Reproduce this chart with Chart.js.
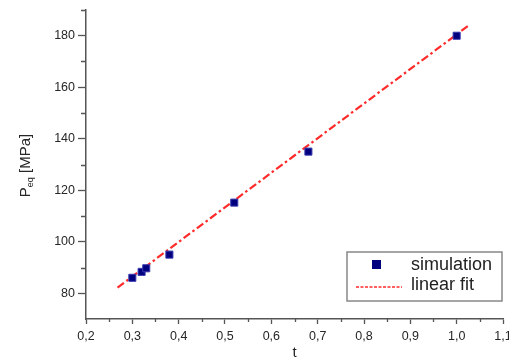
<!DOCTYPE html>
<html>
<head>
<meta charset="utf-8">
<script src="https://cdn.jsdelivr.net/npm/chart.js@4/dist/chart.umd.min.js"></script>
<style>
  html, body { margin: 0; padding: 0; background: #fff; overflow: hidden; }
  #wrap { position: relative; width: 509px; height: 362px; }
</style>
</head>
<body>
<div id="wrap"><canvas id="fitChart"></canvas></div>
<script>
// simulated equivalent pressure vs t
const simT = [0.30, 0.32, 0.33, 0.38, 0.52, 0.68, 1.00];
const simP = [86, 88.3, 89.7, 95, 115.2, 135, 180];

// linear fit, drawn between its two end points
const fitT = [0.268, 1.026];
const fitP = [82.2, 184];

// axis ticks
const xMajor = [0.2, 0.3, 0.4, 0.5, 0.6, 0.7, 0.8, 0.9, 1.0, 1.1];
const xMinor = [0.25, 0.35, 0.45, 0.55, 0.65, 0.75, 0.85, 0.95, 1.05];
const yMajor = [80, 100, 120, 140, 160, 180];
const yMinor = [90, 110, 130, 150, 170, 190];

const AXIS = "#555";
const TEXT = "#262626";
const FONT = "'Liberation Sans', Arial, sans-serif";

// short ticks between the labelled ones
const minorTicks = {
  id: "minorTicks",
  afterDraw(chart) {
    const ctx = chart.ctx;
    const xs = chart.scales.x, ys = chart.scales.y;
    const area = chart.chartArea;
    ctx.save();
    ctx.strokeStyle = AXIS;
    ctx.lineWidth = 1.3;
    ctx.beginPath();
    xMinor.forEach(function (v) {
      const px = Math.round(xs.getPixelForValue(v)) + 0.5;
      ctx.moveTo(px, area.bottom);
      ctx.lineTo(px, area.bottom + 3);
    });
    yMinor.forEach(function (v) {
      const py = Math.round(ys.getPixelForValue(v)) + 0.5;
      ctx.moveTo(area.left, py);
      ctx.lineTo(area.left - 5, py);
    });
    ctx.stroke();
    ctx.restore();
  },
};

// rotated y title with subscript
const yTitle = {
  id: "yTitle",
  afterDraw(chart) {
    const ctx = chart.ctx;
    const area = chart.chartArea;
    const big = "15px " + FONT, small = "9px " + FONT;
    ctx.save();
    ctx.font = big;
    const wP = ctx.measureText("P").width;
    const wRest = ctx.measureText(" [MPa]").width;
    ctx.font = small;
    const wSub = ctx.measureText("eq").width;
    const total = wP + wSub + wRest;
    const cy = (area.top + area.bottom) / 2 + 1;
    ctx.translate(30, cy);
    ctx.rotate(-Math.PI / 2);
    ctx.fillStyle = TEXT;
    ctx.textBaseline = "alphabetic";
    let x = -total / 2;
    ctx.font = big;
    ctx.fillText("P", x, 0);
    x += wP;
    ctx.font = small;
    ctx.fillText("eq", x, 3);
    x += wSub;
    ctx.font = big;
    ctx.fillText(" [MPa]", x, 0);
    ctx.restore();
  },
};

// boxed legend in the lower right corner
const boxLegend = {
  id: "boxLegend",
  afterDraw(chart) {
    const ctx = chart.ctx;
    const area = chart.chartArea;
    const sim = chart.data.datasets[0], fit = chart.data.datasets[1];
    const bx = area.right - 156, by = area.bottom - 67, bw = 155, bh = 49;
    ctx.save();
    ctx.fillStyle = "#fff";
    ctx.fillRect(bx, by, bw, bh);
    ctx.strokeStyle = "#888";
    ctx.lineWidth = 1.5;
    ctx.strokeRect(bx, by, bw, bh);

    ctx.fillStyle = sim.backgroundColor;
    ctx.fillRect(bx + 25, by + 8, 9, 9);

    ctx.strokeStyle = fit.borderColor;
    ctx.lineWidth = 1.5;
    ctx.setLineDash([3, 1.5]);
    ctx.beginPath();
    ctx.moveTo(bx + 9, by + 35);
    ctx.lineTo(bx + 55, by + 35);
    ctx.stroke();
    ctx.setLineDash([]);

    ctx.fillStyle = "#222";
    ctx.font = "18px " + FONT;
    ctx.textBaseline = "middle";
    ctx.fillText(sim.label, bx + 64, by + 13);
    ctx.fillText(fit.label, bx + 64, by + 33);
    ctx.restore();
  },
};

new Chart(document.getElementById("fitChart"), {
  type: "scatter",
  data: {
    datasets: [
      {
        label: "simulation",
        data: simT.map(function (t, i) { return { x: t, y: simP[i] }; }),
        backgroundColor: "#00007f",
        borderColor: "#3a3ab0",
        borderWidth: 1,
        pointStyle: "rect",
        pointRadius: 5,
        order: 1,
      },
      {
        label: "linear fit",
        type: "line",
        data: fitT.map(function (t, i) { return { x: t, y: fitP[i] }; }),
        borderColor: "#ff2a2a",
        borderWidth: 2.2,
        borderDash: [8, 3, 2.5, 3],
        pointRadius: 0,
        fill: false,
        order: 2,
      },
    ],
  },
  options: {
    responsive: true,
    maintainAspectRatio: false,
    animation: false,
    layout: { padding: { top: 10, right: 5, left: 0, bottom: 0 } },
    plugins: {
      legend: { display: false },
      tooltip: { enabled: false },
    },
    scales: {
      x: {
        type: "linear",
        min: 0.2,
        max: 1.1,
        afterBuildTicks(scale) {
          scale.ticks = xMajor.map(function (v) { return { value: v }; });
        },
        afterFit(scale) {
          scale.height = 43;
          scale.paddingLeft = 0;
          scale.paddingRight = 0;
        },
        border: { color: AXIS, width: 1.5 },
        grid: { drawOnChartArea: false, tickLength: 5, tickColor: AXIS, tickWidth: 1.3 },
        ticks: {
          color: TEXT,
          padding: 5,
          maxRotation: 0,
          autoSkip: false,
          font: { family: FONT, size: 12.5 },
          callback: function (v) { return Number(v).toFixed(1).replace(".", ","); },
        },
        title: {
          display: true,
          text: "t",
          color: TEXT,
          font: { family: FONT, size: 15 },
          padding: { top: 0, bottom: 0 },
        },
      },
      y: {
        type: "linear",
        min: 70,
        max: 190,
        afterBuildTicks(scale) {
          scale.ticks = yMajor.map(function (v) { return { value: v }; });
        },
        afterFit(scale) {
          scale.width = 86;
          scale.paddingTop = 0;
          scale.paddingBottom = 0;
        },
        border: { color: AXIS, width: 1.5 },
        grid: { drawOnChartArea: false, tickLength: 8, tickColor: AXIS, tickWidth: 1.3 },
        ticks: {
          color: TEXT,
          padding: 3,
          font: { family: FONT, size: 12.5 },
        },
      },
    },
  },
  plugins: [minorTicks, yTitle, boxLegend],
});
</script>
</body>
</html>
